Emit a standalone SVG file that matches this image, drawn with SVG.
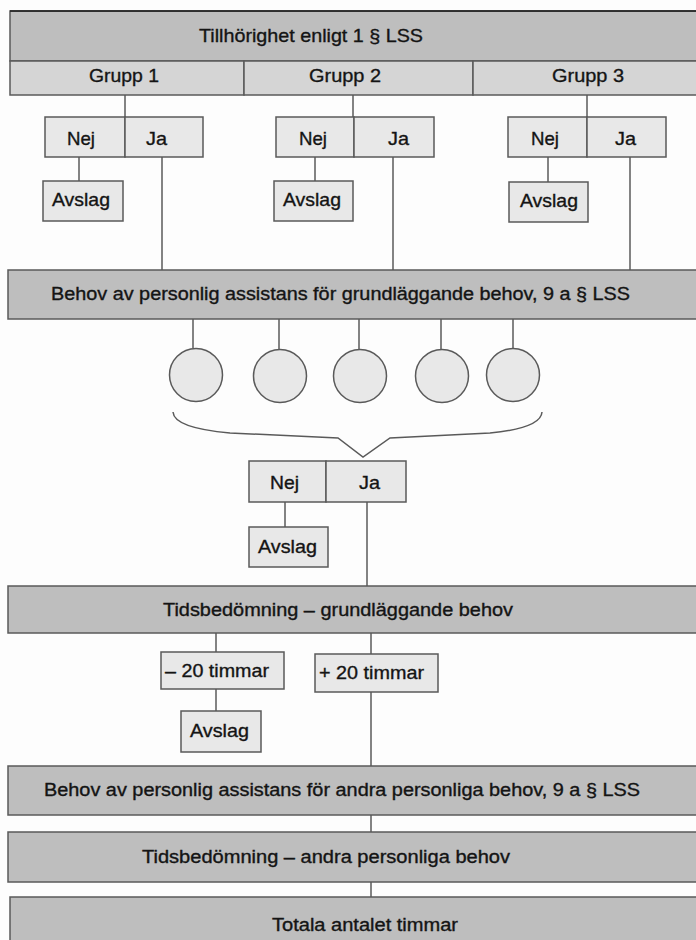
<svg xmlns="http://www.w3.org/2000/svg" width="696" height="940" viewBox="0 0 696 940">
<style>
.bar{fill:#bebebe;stroke:#5a5a5a;stroke-width:1.5}
.grp{fill:#d5d5d5;stroke:#5a5a5a;stroke-width:1.5}
.box{fill:#e8e8e8;stroke:#5a5a5a;stroke-width:1.5}
.ln{stroke:#5a5a5a;stroke-width:1.5;fill:none}
text{font-family:"Liberation Sans",Arial,sans-serif;fill:#141414;stroke:#141414;stroke-width:0.35}
.t17{font-size:17.5px}
.t18{font-size:19px}
</style>
<rect x="0" y="0" width="696" height="940" fill="#fdfdfd"/>
<g id="connectors">
<line class="ln" x1="125" y1="95" x2="125" y2="117"/>
<line class="ln" x1="353" y1="95" x2="353" y2="117"/>
<line class="ln" x1="587" y1="95" x2="587" y2="117"/>
<line class="ln" x1="79" y1="157" x2="79" y2="181"/>
<line class="ln" x1="315" y1="157" x2="315" y2="181"/>
<line class="ln" x1="548" y1="157" x2="548" y2="182"/>
<line class="ln" x1="162" y1="157" x2="162" y2="270"/>
<line class="ln" x1="393" y1="157" x2="393" y2="270"/>
<line class="ln" x1="630" y1="157" x2="630" y2="270"/>
<line class="ln" x1="193" y1="319" x2="193" y2="348"/>
<line class="ln" x1="279" y1="319" x2="279" y2="349"/>
<line class="ln" x1="359" y1="319" x2="359" y2="349"/>
<line class="ln" x1="441" y1="319" x2="441" y2="349"/>
<line class="ln" x1="513" y1="319" x2="513" y2="348"/>
<path class="ln" d="M173,412 Q174,428 230,433 L338,438 L363,457 L390,438 L490,433 Q541,428 542,412"/>
<line class="ln" x1="285" y1="502" x2="285" y2="527"/>
<line class="ln" x1="367" y1="502" x2="367" y2="586"/>
<line class="ln" x1="216" y1="633" x2="216" y2="652"/>
<line class="ln" x1="371" y1="633" x2="371" y2="654"/>
<line class="ln" x1="216" y1="689" x2="216" y2="711"/>
<line class="ln" x1="371" y1="692" x2="371" y2="766"/>
<line class="ln" x1="371" y1="815" x2="371" y2="832"/>
<line class="ln" x1="371" y1="882" x2="371" y2="897"/>
</g>
<g id="title">
<rect class="bar" x="10" y="11" width="700" height="50"/>
<line x1="10" y1="11" x2="696" y2="11" stroke="#1a1a1a" stroke-width="1.5"/>
<text class="t18" x="199" y="42" textLength="224" lengthAdjust="spacingAndGlyphs">Tillhörighet enligt 1 § LSS</text>
</g>
<g id="grupp1">
<rect class="grp" x="10" y="61" width="234" height="34"/>
<text class="t18" x="89" y="82" textLength="70" lengthAdjust="spacingAndGlyphs">Grupp 1</text>
</g>
<g id="grupp2">
<rect class="grp" x="244" y="61" width="229" height="34"/>
<text class="t18" x="309" y="82" textLength="72" lengthAdjust="spacingAndGlyphs">Grupp 2</text>
</g>
<g id="grupp3">
<rect class="grp" x="473" y="61" width="237" height="34"/>
<text class="t18" x="552" y="82" textLength="72" lengthAdjust="spacingAndGlyphs">Grupp 3</text>
</g>
<g id="g1-nej">
<rect class="box" x="45" y="117" width="80" height="40"/>
<text class="t18" x="67" y="145" textLength="28" lengthAdjust="spacingAndGlyphs">Nej</text>
</g>
<g id="g1-ja">
<rect class="box" x="125" y="117" width="78" height="40"/>
<text class="t18" x="146" y="145" textLength="21" lengthAdjust="spacingAndGlyphs">Ja</text>
</g>
<g id="g1-avslag">
<rect class="box" x="43" y="181" width="80" height="40"/>
<text class="t18" x="52" y="206" textLength="58" lengthAdjust="spacingAndGlyphs">Avslag</text>
</g>
<g id="g2-nej">
<rect class="box" x="276" y="117" width="78" height="40"/>
<text class="t18" x="299" y="145" textLength="28" lengthAdjust="spacingAndGlyphs">Nej</text>
</g>
<g id="g2-ja">
<rect class="box" x="354" y="117" width="80" height="40"/>
<text class="t18" x="388" y="145" textLength="21" lengthAdjust="spacingAndGlyphs">Ja</text>
</g>
<g id="g2-avslag">
<rect class="box" x="274" y="181" width="79" height="40"/>
<text class="t18" x="283" y="206" textLength="58" lengthAdjust="spacingAndGlyphs">Avslag</text>
</g>
<g id="g3-nej">
<rect class="box" x="508" y="117" width="79" height="40"/>
<text class="t18" x="531" y="145" textLength="28" lengthAdjust="spacingAndGlyphs">Nej</text>
</g>
<g id="g3-ja">
<rect class="box" x="587" y="117" width="79" height="40"/>
<text class="t18" x="615" y="145" textLength="21" lengthAdjust="spacingAndGlyphs">Ja</text>
</g>
<g id="g3-avslag">
<rect class="box" x="509" y="182" width="79" height="40"/>
<text class="t18" x="520" y="207" textLength="58" lengthAdjust="spacingAndGlyphs">Avslag</text>
</g>
<g id="behov-grund">
<rect class="bar" x="8" y="270" width="702" height="49"/>
<text class="t17" x="51" y="300" textLength="579" lengthAdjust="spacingAndGlyphs">Behov av personlig assistans för grundläggande behov, 9 a § LSS</text>
</g>
<g id="c1"><ellipse class="box" cx="196" cy="375" rx="26.5" ry="26.5"/></g>
<g id="c2"><ellipse class="box" cx="280" cy="376" rx="26.5" ry="26.5"/></g>
<g id="c3"><ellipse class="box" cx="360" cy="376" rx="26.5" ry="26.5"/></g>
<g id="c4"><ellipse class="box" cx="442" cy="376" rx="26.5" ry="26.5"/></g>
<g id="c5"><ellipse class="box" cx="513" cy="375" rx="26.5" ry="26.5"/></g>
<g id="m-nej">
<rect class="box" x="249" y="461" width="77" height="41"/>
<text class="t18" x="270" y="489" textLength="29" lengthAdjust="spacingAndGlyphs">Nej</text>
</g>
<g id="m-ja">
<rect class="box" x="326" y="461" width="80" height="41"/>
<text class="t18" x="359" y="489" textLength="21" lengthAdjust="spacingAndGlyphs">Ja</text>
</g>
<g id="m-avslag">
<rect class="box" x="249" y="527" width="79" height="40"/>
<text class="t18" x="258" y="553" textLength="59" lengthAdjust="spacingAndGlyphs">Avslag</text>
</g>
<g id="tids-grund">
<rect class="bar" x="8" y="586" width="702" height="47"/>
<text class="t17" x="163" y="616" textLength="350" lengthAdjust="spacingAndGlyphs">Tidsbedömning – grundläggande behov</text>
</g>
<g id="minus20">
<rect class="box" x="161" y="652" width="123" height="37"/>
<text class="t18" x="165" y="677" textLength="104" lengthAdjust="spacingAndGlyphs">– 20 timmar</text>
</g>
<g id="plus20">
<rect class="box" x="315" y="654" width="123" height="38"/>
<text class="t18" x="319" y="679" textLength="105" lengthAdjust="spacingAndGlyphs">+ 20 timmar</text>
</g>
<g id="b-avslag">
<rect class="box" x="181" y="711" width="80" height="41"/>
<text class="t18" x="190" y="737" textLength="59" lengthAdjust="spacingAndGlyphs">Avslag</text>
</g>
<g id="behov-andra">
<rect class="bar" x="8" y="766" width="702" height="49"/>
<text class="t17" x="44" y="796" textLength="596" lengthAdjust="spacingAndGlyphs">Behov av personlig assistans för andra personliga behov, 9 a § LSS</text>
</g>
<g id="tids-andra">
<rect class="bar" x="8" y="832" width="702" height="50"/>
<text class="t17" x="142" y="863" textLength="368" lengthAdjust="spacingAndGlyphs">Tidsbedömning – andra personliga behov</text>
</g>
<g id="totala">
<rect class="bar" x="10" y="897" width="700" height="60"/>
<text class="t17" x="272" y="931" textLength="186" lengthAdjust="spacingAndGlyphs">Totala antalet timmar</text>
</g>
</svg>
